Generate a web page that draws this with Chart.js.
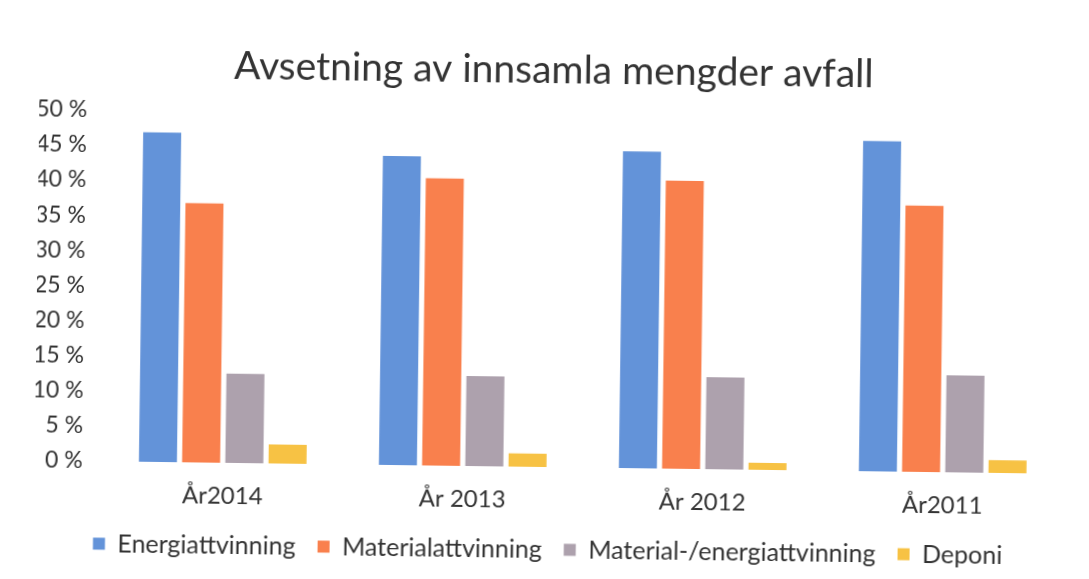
<!DOCTYPE html>
<html lang="no">
<head>
  <meta charset="UTF-8" />
  <title>Avsetning av innsamla mengder avfall</title>
  <style>
    body { margin: 0; background: #ffffff; overflow: hidden; }
    canvas { display: block; transform: rotate(0.75deg); transform-origin: 50% 50%; }
  </style>
</head>
<body>
  <canvas id="chart" width="1089" height="579"></canvas>

  <script src="https://cdn.jsdelivr.net/npm/chart.js"></script>
  <script>
    const years = ['År2014', 'År 2013', 'År 2012', 'År2011'];
    const energi = [46.9, 44.0, 45.1, 47.0];
    const material = [36.9, 40.9, 41.0, 37.9];
    const materialEnergi = [12.7, 12.8, 13.1, 13.8];
    const deponi = [2.7, 1.9, 1.0, 1.8];

    const font = 'Lato, "Open Sans", sans-serif';
    const textColor = '#333333';

    const ctx = document.getElementById('chart').getContext('2d');
    new Chart(ctx, {
      type: 'bar',
      data: {
        labels: years,
        datasets: [
          { label: 'Energiattvinning', data: energi, backgroundColor: '#6393d9' },
          { label: 'Materialattvinning', data: material, backgroundColor: '#f9804d' },
          { label: 'Material-/energiattvinning', data: materialEnergi, backgroundColor: '#ada1ad' },
          { label: 'Deponi', data: deponi, backgroundColor: '#f7c244' }
        ]
      },
      options: {
        responsive: false,
        animation: false,
        datasets: { bar: { barPercentage: 0.88, categoryPercentage: 0.72 } },
        layout: { padding: { left: 37, right: 24, top: 0, bottom: 9 } },
        plugins: {
          title: {
            display: true,
            text: 'Avsetning av innsamla mengder avfall',
            color: textColor,
            font: { family: font, size: 39, weight: 'normal' },
            padding: { top: 47, bottom: 22 }
          },
          legend: {
            position: 'bottom',
            maxHeight: 55,
            labels: {
              color: textColor,
              font: { family: font, size: 25 },
              boxWidth: 12,
              boxHeight: 12,
              padding: 22
            }
          },
          tooltip: { enabled: false }
        },
        scales: {
          x: {
            grid: { display: false, drawTicks: false },
            border: { display: false },
            ticks: { color: textColor, font: { family: font, size: 24 }, padding: 19 },
            afterFit: scale => { scale.height = 48; }
          },
          y: {
            min: 0,
            max: 50,
            grid: { display: false, drawTicks: false },
            border: { display: false },
            ticks: {
              stepSize: 5,
              color: textColor,
              font: { family: font, size: 23 },
              padding: 20,
              callback: v => v + ' %'
            },
            afterFit: scale => { scale.width = 68; }
          }
        }
      }
    });
  </script>
</body>
</html>
